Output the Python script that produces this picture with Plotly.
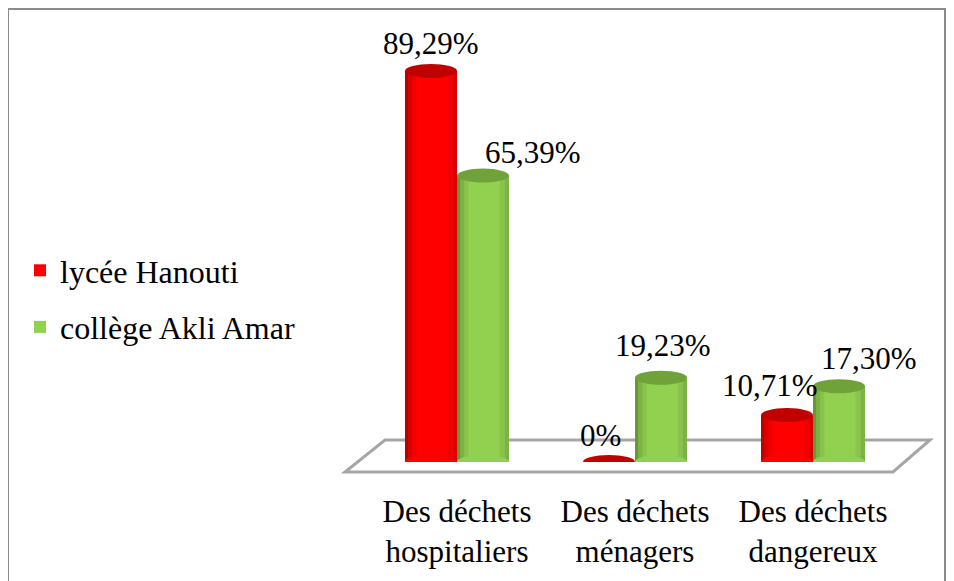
import plotly.graph_objects as go

categories = ["Des déchets<br>hospitaliers", "Des déchets<br>ménagers", "Des déchets<br>dangereux"]
series_names = ["lycée Hanouti", "collège Akli Amar"]
lycee_values = [89.29, 0.0, 10.71]
college_values = [65.39, 19.23, 17.30]
lycee_labels = ["89,29%", "0%", "10,71%"]
college_labels = ["65,39%", "19,23%", "17,30%"]

FONT = "Liberation Serif"
RED, RED_TOP = "#FF0000", "#C00000"
GREEN, GREEN_TOP = "#92D050", "#6FA33A"

# layout geometry (pixels, screen coordinates; page has an 8px body margin)
OFF = 8
W, H = 954, 581
L, R, T, B = 368 - OFF, 52 + OFF, 24 - OFF, 119 + OFF
PW, PH = W - L - R, H - T - B
BARGAP = 0.416
BW = (1 - BARGAP) / 2  # bar width in category units

def px(x):
    return (x - OFF - L) / PW

def py(y):
    return (T + PH - (y - OFF)) / PH

xs = list(range(len(categories)))
fig = go.Figure()
fig.add_trace(go.Bar(x=xs, y=lycee_values, name=series_names[0], marker_color=RED,
                     marker_line_width=0, legendgroup="a"))
fig.add_trace(go.Bar(x=xs, y=college_values, name=series_names[1], marker_color=GREEN,
                     marker_line_width=0, legendgroup="b"))

shapes = []
# frame
shapes.append(dict(type="rect", xref="paper", yref="paper", x0=px(8), x1=px(945), y0=py(600), y1=py(9),
                   line=dict(color="#8c8c8c", width=2), fillcolor="rgba(0,0,0,0)", layer="below"))
# floor
fl = [(345, 472), (893, 472), (930, 440), (385, 440)]
path = "M " + " L ".join(f"{px(a)},{py(b)}" for a, b in fl) + " Z"
shapes.append(dict(type="path", xref="paper", yref="paper", path=path,
                   line=dict(color="#a6a6a6", width=3), fillcolor="white", layer="below"))

# cylinder shading strips (fractions of bar width, darkness)
strips = [(0.0, 0.06, 0.28), (0.06, 0.14, 0.14), (0.14, 0.22, 0.06), (0.82, 0.92, 0.06), (0.92, 1.0, 0.14)]

EH = 1.6  # ellipse half-height in data units
for vals, off, body, top in [(lycee_values, -BW / 2, RED, RED_TOP), (college_values, BW / 2, GREEN, GREEN_TOP)]:
    for i, v in zip(xs, vals):
        cx = i + off
        x_left = cx - BW / 2
        if v > 0:
            for a, b, d in strips:
                shapes.append(dict(type="rect", xref="x", yref="y", x0=x_left + a * BW, x1=x_left + b * BW,
                                   y0=0, y1=v, fillcolor=f"rgba(0,0,0,{d})", line_width=0, layer="above"))
            shapes.append(dict(type="circle", xref="x", yref="y", x0=cx - BW / 2, x1=cx + BW / 2,
                               y0=-EH, y1=EH, fillcolor=body, line_width=0, layer="above"))
            for a, b, d in strips:
                shapes.append(dict(type="rect", xref="x", yref="y", x0=x_left + a * BW, x1=x_left + b * BW,
                                   y0=-EH * (0.35 if (a < 0.01 or b > 0.99) else 0.85), y1=0,
                                   fillcolor=f"rgba(0,0,0,{d})", line_width=0, layer="above"))
        shapes.append(dict(type="circle", xref="x", yref="y", x0=cx - BW / 2, x1=cx + BW / 2,
                           y0=v - EH, y1=v + EH, fillcolor=top, line_width=0, layer="above"))

annotations = []
lycee_shift = [(0, 27), (-9, 27), (-17, 30)]
college_shift = [(50, 23), (2, 32), (30, 28)]
for vals, labs, off, shifts in [(lycee_values, lycee_labels, -BW / 2, lycee_shift),
                                (college_values, college_labels, BW / 2, college_shift)]:
    for i, v, t, (dx, dy) in zip(xs, vals, labs, shifts):
        annotations.append(dict(x=i + off, y=v, text=t, showarrow=False, xshift=dx, yshift=dy,
                                yanchor="middle", xanchor="center",
                                font=dict(family=FONT, size=31, color="black")))

fig.update_layout(
    width=W, height=H, autosize=False,
    margin=dict(l=L, r=R, t=T, b=B, pad=0),
    paper_bgcolor="white", plot_bgcolor="rgba(0,0,0,0)",
    barmode="group", bargap=BARGAP, bargroupgap=0,
    font=dict(family=FONT, size=30, color="black"),
    xaxis=dict(range=[-0.5, 2.5], tickvals=xs, ticktext=categories, showgrid=False, zeroline=False,
               showline=False, ticks="", tickfont=dict(family=FONT, size=31, color="black"),
               ticklabelstandoff=28, fixedrange=True),
    yaxis=dict(range=[0, 100], visible=False, showgrid=False, zeroline=False, fixedrange=True),
    legend=dict(x=px(20), xanchor="left", y=py(243), yanchor="top", tracegroupgap=12,
                font=dict(family=FONT, size=32, color="black"), bgcolor="rgba(0,0,0,0)"),
    shapes=shapes, annotations=annotations,
)
fig.write_html("out.html")
